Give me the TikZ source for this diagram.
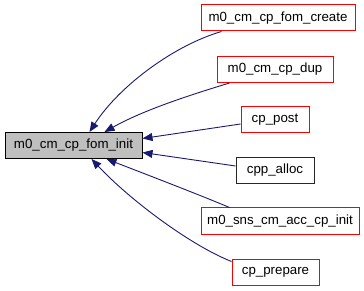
\documentclass[tikz,border=0pt]{standalone}
\usepackage{fontspec}
\setmainfont{Liberation Sans}
\usetikzlibrary{arrows.meta}
\definecolor{edgeblue}{HTML}{191970}
\definecolor{mainfill}{HTML}{BFBFBF}
\begin{document}
\begin{tikzpicture}[x=1pt,y=-1pt,
  fnbox/.style={draw=red, line width=1pt, fill=white, minimum height=26pt,
    inner sep=0pt, font=\fontsize{13.3}{16}\selectfont},
  mainbox/.style={fnbox, draw=black, fill=mainfill},
  plainbox/.style={fnbox, draw=black!85},
  call/.style={draw=edgeblue, line width=0.9pt,
    {Triangle[length=10pt,width=8pt,fill=edgeblue]}-}]
\useasboundingbox (0,0) rectangle (364,291);

% callee and its callers
\node[mainbox, minimum width=137pt] (main) at (73.5,145.5) {m0\_cm\_cp\_fom\_init};
\node[fnbox, minimum width=154pt] (create) at (278,18) {m0\_cm\_cp\_fom\_create};
\node[fnbox, minimum width=116pt] (dup) at (275,69.5) {m0\_cm\_cp\_dup};
\node[fnbox, minimum width=68pt] (post) at (275,120) {cp\_post};
\node[plainbox, minimum width=78pt] (alloc) at (275,170.5) {cpp\_alloc};
\node[fnbox, minimum width=158pt] (sns) at (280,221) {m0\_sns\_cm\_acc\_cp\_init};
\node[fnbox, minimum width=87pt] (prepare) at (275.5,272) {cp\_prepare};

% call edges, arrowheads at the callee
\draw[call] ([xshift=85pt]main.north west) .. controls (120,85) and (175,45) .. ([xshift=21pt]create.south west);
\draw[call] ([xshift=100pt]main.north west) .. controls (140,112) and (180,98) .. ([xshift=13pt]dup.south west);
\draw[call] ([yshift=7pt]main.east) -- ([yshift=-4pt]post.west);
\draw[call] ([yshift=-7pt]main.east) -- ([yshift=4.5pt]alloc.west);
\draw[call] ([xshift=102pt]main.south west) .. controls (140,172) and (200,195) .. ([xshift=29pt]sns.north west);
\draw[call] ([xshift=87pt]main.south west) .. controls (130,200) and (190,245) .. ([yshift=-3pt]prepare.north west);
\end{tikzpicture}
\end{document}
